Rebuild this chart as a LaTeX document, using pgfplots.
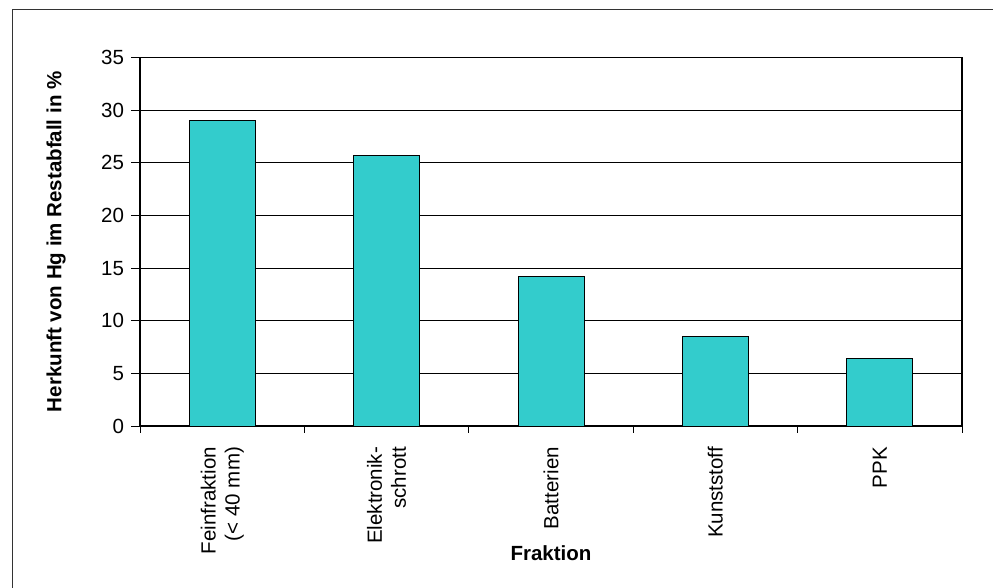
\documentclass[border=0pt]{standalone}
\usepackage{pgfplots}
\pgfplotsset{compat=1.18}
\usepackage{fontspec}
\setmainfont{Liberation Sans}
\definecolor{barfill}{RGB}{51,204,204}
\newcommand{\lf}{\fontsize{20.5}{24}\selectfont}
\begin{document}
\lf
\begin{tikzpicture}
\useasboundingbox (0,0) rectangle (993pt,588pt);
\draw[line width=1pt, black!80] (12pt,0) -- (12pt,578.5pt) -- (993pt,578.5pt);
\begin{axis}[
  at={(140pt,162pt)}, anchor=south west,
  width=822pt, height=368.5pt, scale only axis,
  xmin=0.5, xmax=5.5, ymin=0, ymax=35,
  ytick={0,5,...,35},
  xtick={1,2,3,4,5},
  xticklabels={{Feinfraktion\\(< 40 mm)},{Elektronik-\\schrott},Batterien,Kunststoff,PPK},
  minor xtick={0.5,1.5,...,5.5},
  major x tick style={draw=none},
  tick align=outside,
  major tick length=9pt, minor tick length=7pt,
  xtick pos=bottom, ytick pos=left,
  tick style={black, line width=0.9pt},
  ymajorgrids, grid style={black, line width=0.8pt},
  axis line style={black, line width=1.2pt},
  xticklabel style={rotate=90, anchor=east, align=right, font=\lf, xshift=-5pt},
  yticklabel style={font=\lf, xshift=0pt},
  /pgf/number format/assume math mode=true,
  xlabel={\textbf{Fraktion}},
  xlabel style={at={(axis description cs:0.5,0)}, anchor=center, yshift=-127pt, font=\lf},
  ybar, bar width=66pt,
  clip=false,
]
\addplot[fill=barfill, draw=black, line width=0.9pt] coordinates {(1,29.0) (2,25.7) (3,14.2) (4,8.5) (5,6.4)};
\node[rotate=90, anchor=center, font=\bfseries\lf] at ([xshift=-84pt]rel axis cs:0,0.5) {Herkunft von Hg im Restabfall in \%};
\end{axis}
\end{tikzpicture}
\end{document}
